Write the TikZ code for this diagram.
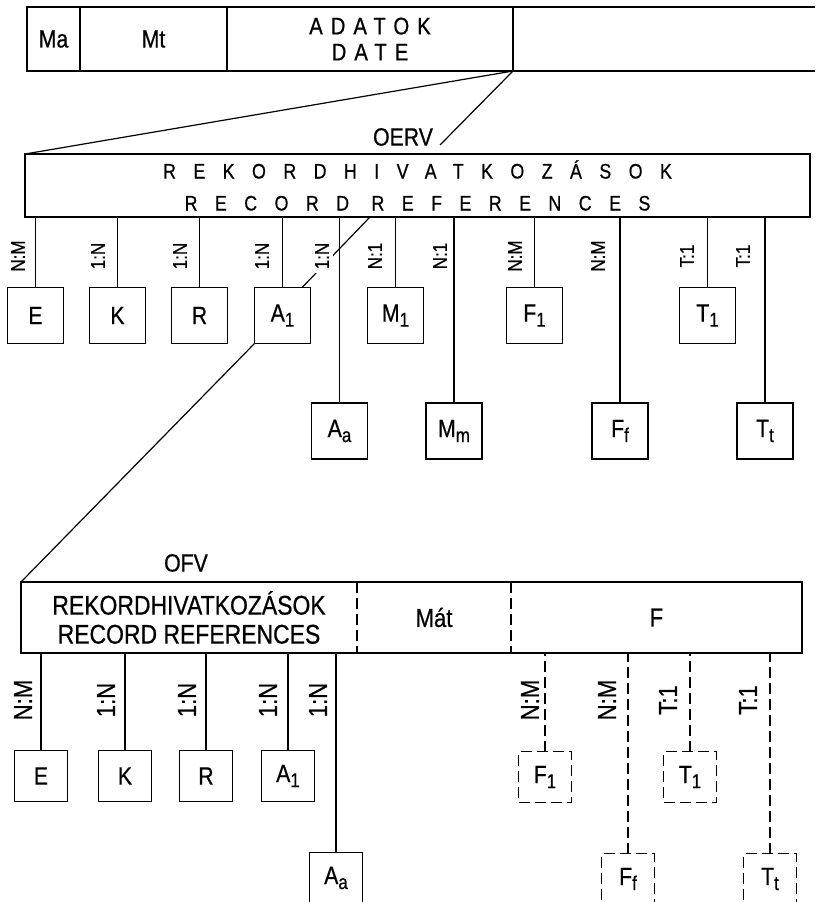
\documentclass[tikz,border=0pt]{standalone}
\usepackage{fontspec}
\setmainfont{Liberation Sans}[FakeStretch=0.85, FakeBold=0.6]
\newfontfamily\tracked{Liberation Sans}[FakeStretch=0.85, FakeBold=0.6, LetterSpace=33]
\newfontfamily\trackedwide{Liberation Sans}[FakeStretch=0.85, FakeBold=0.6, LetterSpace=83]
\newcommand{\idx}[1]{\raisebox{-0.2em}{\scalebox{0.8}{#1}}}
\usetikzlibrary{positioning}

\begin{document}
\begin{tikzpicture}[x=1pt, y=-1pt, line width=1.8pt,
  every node/.style={inner sep=0pt, outer sep=0pt},
  ent/.style={draw, rectangle, minimum width=56pt, minimum height=56pt, font=\fontsize{25}{25}\selectfont},
  entlow/.style={draw, rectangle, minimum width=53pt, minimum height=51pt, font=\fontsize{25}{25}\selectfont},
  cut/.style={dash pattern=on 11pt off 5pt},
  rel/.style={rotate=90, font=\fontsize{20}{20}\selectfont},
  rellow/.style={rotate=90, font=\fontsize{26}{26}\selectfont}]
  \useasboundingbox (0,0) rectangle (815,902);

  % record layout on top
  \node[draw, rectangle, minimum width=53pt, minimum height=64pt, font=\fontsize{25}{25}\selectfont] (ma) at (53.5,39) {Ma};
  \node[draw, rectangle, minimum width=147pt, minimum height=64pt, font=\fontsize{25}{25}\selectfont] (mt) at (153.5,39) {Mt};
  \node[draw, rectangle, minimum width=286pt, minimum height=64pt, align=center, font=\fontsize{24}{26}\tracked] (adat) at (370,39) {ADATOK\\DATE};
  \coordinate (barne) at (815,7);
  \coordinate (barse) at (815,71);
  \draw (adat.north east) -- (barne);
  \draw (adat.south east) -- (barse);

  \node[draw, rectangle, minimum width=785pt, minimum height=63pt, align=center, font=\fontsize{21}{32}\trackedwide] (rec) at (417.5,185.5) {REKORDHIVATKOZÁSOK\\RECORD REFERENCES};
  \node[font=\fontsize{25}{25}\selectfont] (oerv) at (403,137) {OERV};
  \coordinate (oervend) at (440,145);
  \draw[line width=1.2pt] (adat.south east) -- (rec.north west);
  \draw[line width=1.2pt] (adat.south east) -- (oervend);

  \node[ent] (e) at (35.5,315.5) {E};
  \node[ent] (k) at (117.5,315.5) {K};
  \node[ent] (r) at (199.5,315.5) {R};
  \node[ent] (a1) at (282.5,315.5) {A\idx{1}};
  \node[ent] (m1) at (395.5,315.5) {M\idx{1}};
  \node[ent] (f1) at (534.5,315.5) {F\idx{1}};
  \node[ent] (t1) at (707.5,315.5) {T\idx{1}};
  \node[ent] (aa) at (339.5,431) {A\idx{a}};
  \node[ent] (mm) at (454,431) {M\idx{m}};
  \node[ent] (ff) at (620,431) {F\idx{f}};
  \node[ent] (tt) at (765,431) {T\idx{t}};

  \foreach \n in {e,k,r,a1,m1,f1,t1,aa,mm,ff,tt}
    \draw (\n.north) -- (\n.north |- rec.south);

  \coordinate (zoomtop) at (370,217);
  \draw[line width=1.2pt] (a1.55) -- (zoomtop);

  \node[rel] (le) at (18,256) {N:M};
  \node[rel] (lk) at (98,256) {1:N};
  \node[rel] (lr) at (180,256) {1:N};
  \node[rel] (la1) at (262,256) {1:N};
  \node[rel, fill=white, inner sep=4pt] (laa) at (322,256) {1:N};
  \node[rel] (lm1) at (375,256) {N:1};
  \node[rel] (lmm) at (440,256) {N:1};
  \node[rel] (lf1) at (515,256) {N:M};
  \node[rel] (lff) at (598,256) {N:M};
  \node[rel] (lt1) at (687,256) {T:1};
  \node[rel] (ltt) at (743,256) {T:1};

  % expanded record below
  \node[minimum width=336pt, minimum height=71pt, align=center, font=\fontsize{27}{29}\selectfont] (rec2) at (189,617.5) {REKORDHIVATKOZÁSOK\\RECORD REFERENCES};
  \node[minimum width=154pt, minimum height=71pt, font=\fontsize{26}{26}\selectfont] (mat) at (434,617.5) {Mát};
  \node[minimum width=291pt, minimum height=71pt, font=\fontsize{26}{26}\selectfont] (fpart) at (656.5,617.5) {F};
  \draw (rec2.north west) -- (fpart.north east) -- (fpart.south east) -- (rec2.south west) -- cycle;
  \draw[cut] (rec2.north east) -- (rec2.south east);
  \draw[cut] (mat.north east) -- (mat.south east);
  \node[font=\fontsize{25}{25}\selectfont] (ofv) at (186,563) {OFV};
  \draw[line width=1.2pt] (a1.south west) -- (rec2.north west);

  \node[entlow] (e2) at (41,776) {E};
  \node[entlow] (k2) at (125,776) {K};
  \node[entlow] (r2) at (206,776) {R};
  \node[entlow] (a12) at (288,776) {A\idx{1}};
  \node[entlow] (aa2) at (336,878) {A\idx{a}};
  \node[entlow, cut] (f12) at (545,777) {F\idx{1}};
  \node[entlow, cut] (t12) at (690,777) {T\idx{1}};
  \node[entlow, cut] (ff2) at (628,879) {F\idx{f}};
  \node[entlow, cut] (tt2) at (770,879) {T\idx{t}};

  \foreach \n in {e2,k2,r2,a12,aa2}
    \draw (\n.north) -- (\n.north |- rec2.south);
  \foreach \n in {f12,t12,ff2,tt2}
    \draw[cut] (\n.north) -- (\n.north |- fpart.south);

  \node[rellow] (le2) at (23,700) {N:M};
  \node[rellow] (lk2) at (106,700) {1:N};
  \node[rellow] (lr2) at (187,700) {1:N};
  \node[rellow] (la12) at (268,700) {1:N};
  \node[rellow] (laa2) at (318,700) {1:N};
  \node[rellow] (lf12) at (530,700) {N:M};
  \node[rellow] (lff2) at (607,700) {N:M};
  \node[rellow] (lt12) at (668,700) {T:1};
  \node[rellow] (ltt2) at (748,700) {T:1};
\end{tikzpicture}
\end{document}
